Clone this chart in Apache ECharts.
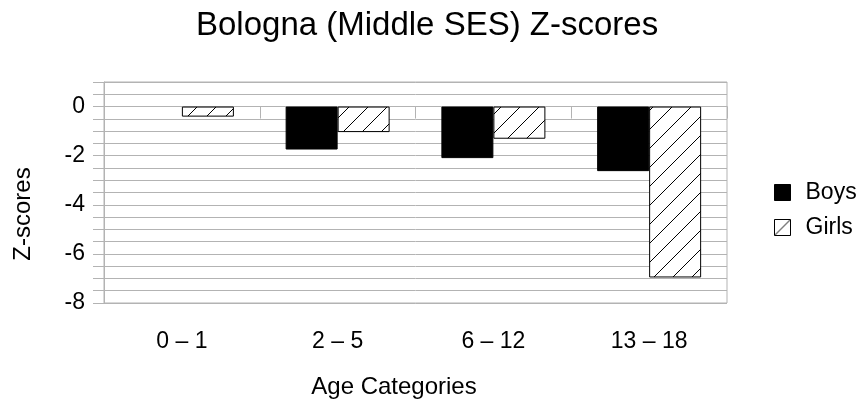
<!DOCTYPE html>
<html>
<head>
<meta charset="utf-8">
<script src="https://cdn.jsdelivr.net/npm/echarts@6/dist/echarts.min.js"></script>
<style>html,body{margin:0;padding:0;background:#fff}#c{width:864px;height:406px}</style>
</head>
<body>
<div id="c"></div>
<script>
const categories = ['0 – 1', '2 – 5', '6 – 12', '13 – 18'];
const boys = [null, -1.75, -2.1, -2.63];
const girls = [-0.41, -1.04, -1.31, -6.96];
const yTickLabels = [0, -2, -4, -6, -8];

const FONT = '"Liberation Sans", Arial, sans-serif';
const GRID = '#b3b3b3';

function hatch(s, withCorners) {
  const c = document.createElement('canvas');
  c.width = s; c.height = s;
  const g = c.getContext('2d');
  g.fillStyle = '#fff'; g.fillRect(0, 0, s, s);
  g.strokeStyle = '#000'; g.lineWidth = 1;
  g.beginPath();
  g.moveTo(-1, s + 1); g.lineTo(s + 1, -1);
  if (withCorners) {
    g.moveTo(-1, 1); g.lineTo(1, -1);
    g.moveTo(s - 1, s + 1); g.lineTo(s + 1, s - 1);
  }
  g.stroke();
  return { image: c, repeat: 'repeat' };
}

const chart = echarts.init(document.getElementById('c'), null, { renderer: 'canvas' });
chart.setOption({
  animation: false,
  backgroundColor: '#fff',
  title: {
    text: 'Bologna (Middle SES) Z-scores',
    left: 196, top: 9, padding: 0,
    textStyle: { fontFamily: FONT, fontSize: 33, fontWeight: 'normal', color: '#000' }
  },
  legend: {
    orient: 'vertical', left: 769, top: 176,
    icon: 'rect', itemWidth: 16, itemHeight: 16, itemGap: 12,
    textStyle: { fontFamily: FONT, fontSize: 23, color: '#000', padding: [0, 0, 0, 10] },
    data: [
      { name: 'Boys', itemStyle: { color: '#000', borderColor: '#000', borderWidth: 1 } },
      { name: 'Girls', itemStyle: { color: hatch(16, false), borderColor: '#000', borderWidth: 1 } }
    ]
  },
  grid: { left: 104, right: 137, top: 82, bottom: 103, show: true, borderColor: GRID, borderWidth: 1 },
  xAxis: [
    {
      type: 'category', data: categories, position: 'bottom',
      axisLine: { show: false, onZero: false }, axisTick: { show: false },
      axisLabel: { fontFamily: FONT, fontSize: 23, color: '#000', margin: 27 }
    },
    {
      type: 'category', data: categories, position: 'bottom',
      axisLine: { show: true, onZero: true, lineStyle: { color: GRID } },
      axisTick: { show: true, length: 12, lineStyle: { color: GRID } },
      axisLabel: { show: false }
    }
  ],
  yAxis: {
    type: 'value', min: -8, max: 1, interval: 0.5,
    axisLine: { show: true, lineStyle: { color: GRID } },
    axisTick: { show: true, length: 11, lineStyle: { color: GRID } },
    splitLine: { show: true, lineStyle: { color: GRID } },
    axisLabel: {
      fontFamily: FONT, fontSize: 23, color: '#000', margin: 19,
      formatter: v => (yTickLabels.indexOf(v) >= 0 ? String(v) : '')
    }
  },
  graphic: [
    { type: 'text', x: 23, y: 214, rotation: Math.PI / 2,
      style: { text: 'Z-scores', fontFamily: FONT, fontSize: 24, fill: '#000', textAlign: 'center', textVerticalAlign: 'middle' } },
    { type: 'text', x: 394, y: 387,
      style: { text: 'Age Categories', fontFamily: FONT, fontSize: 24, fill: '#000', textAlign: 'center', textVerticalAlign: 'middle' } }
  ],
  series: [
    { name: 'Boys', type: 'bar', data: boys, barWidth: 52, barGap: '0%',
      itemStyle: { color: '#000', borderColor: '#000', borderWidth: 1 } },
    { name: 'Girls', type: 'bar', data: girls, barWidth: 52, barGap: '0%',
      itemStyle: { color: hatch(19, true), borderColor: '#000', borderWidth: 1 } }
  ]
});
</script>
</body>
</html>
